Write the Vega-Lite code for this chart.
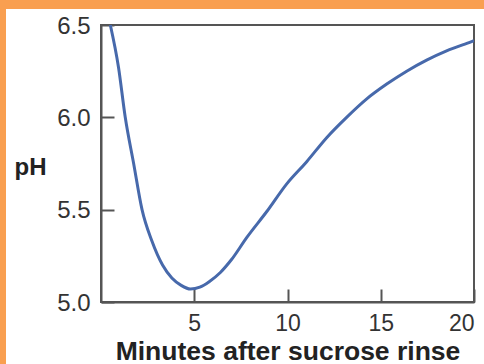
{
  "$schema": "https://vega.github.io/schema/vega-lite/v6.json",
  "padding": 0,
  "background": "white",
  "spacing": 0,
  "config": {
    "font": "Liberation Sans"
  },
  "hconcat": [
    {
      "width": 6,
      "height": 364,
      "data": {"values": [{"k": 1}]},
      "mark": {"type": "rect", "opacity": 0},
      "view": {"fill": "#f99f50", "stroke": null}
    },
    {
      "spacing": 4,
      "vconcat": [
        {
          "width": 478,
          "height": 9,
          "data": {"values": [{"k": 1}]},
          "mark": {"type": "rect", "opacity": 0},
          "view": {"fill": "#f99f50", "stroke": null}
        },
        {
          "spacing": 6,
          "hconcat": [
            {
              "width": 1,
              "height": 1,
              "data": {"values": [{"k": 1}]},
              "mark": {"type": "rect", "opacity": 0},
              "view": {"fill": null, "stroke": null}
            },
            {
              "width": 373,
              "height": 277,
              "view": {"stroke": "#555555", "strokeWidth": 2},
              "data": {
                "values": [
                  {"t": 0.5, "pH": 6.5},
                  {"t": 0.94, "pH": 6.27},
                  {"t": 1.3, "pH": 6.0},
                  {"t": 1.75, "pH": 5.75},
                  {"t": 2.2, "pH": 5.5},
                  {"t": 2.73, "pH": 5.33},
                  {"t": 3.3, "pH": 5.2},
                  {"t": 3.8, "pH": 5.13},
                  {"t": 4.3, "pH": 5.09},
                  {"t": 4.8, "pH": 5.07},
                  {"t": 5.3, "pH": 5.08},
                  {"t": 5.8, "pH": 5.11},
                  {"t": 6.4, "pH": 5.16},
                  {"t": 7.0, "pH": 5.23},
                  {"t": 7.82, "pH": 5.35},
                  {"t": 8.89, "pH": 5.49},
                  {"t": 9.96, "pH": 5.64},
                  {"t": 11.03, "pH": 5.76},
                  {"t": 12.1, "pH": 5.89},
                  {"t": 13.17, "pH": 6.0},
                  {"t": 14.25, "pH": 6.1},
                  {"t": 15.32, "pH": 6.18},
                  {"t": 16.39, "pH": 6.25},
                  {"t": 17.46, "pH": 6.31},
                  {"t": 18.53, "pH": 6.36},
                  {"t": 19.87, "pH": 6.41},
                  {"t": 20, "pH": 6.415}
                ]
              },
              "mark": {"type": "line", "color": "#4769ab", "strokeWidth": 3, "interpolate": "monotone", "clip": true},
              "encoding": {
                "x": {
                  "field": "t", "type": "quantitative",
                  "scale": {"domain": [0, 20], "nice": false, "zero": false},
                  "axis": {
                    "title": "Minutes after sucrose rinse",
                    "values": [5, 10, 15, 20],
                    "grid": false,
                    "domainColor": "#555555", "domainWidth": 2,
                    "tickColor": "#555555", "tickWidth": 2, "tickSize": -13,
                    "labelFontSize": 23, "labelColor": "#333333", "labelPadding": 23,
                    "labelFlush": true,
                    "titleFontSize": 26.5, "titleFontWeight": "bold", "titleColor": "#222222",
                    "titleBaseline": "alphabetic", "titleY": 57
                  }
                },
                "y": {
                  "field": "pH", "type": "quantitative",
                  "scale": {"domain": [5.0, 6.5], "nice": false, "zero": false},
                  "axis": {
                    "title": "pH",
                    "values": [5.0, 5.5, 6.0, 6.5],
                    "format": ".1f",
                    "grid": false,
                    "domainColor": "#555555", "domainWidth": 2,
                    "tickColor": "#555555", "tickWidth": 2, "tickSize": -13,
                    "labelFontSize": 24, "labelColor": "#333333", "labelPadding": 24,
                    "labelOffset": 1,
                    "titleFontSize": 24, "titleFontWeight": "bold", "titleColor": "#222222",
                    "titleAngle": 0, "titleAlign": "center", "titleBaseline": "alphabetic",
                    "titleX": -71, "titleY": 149
                  }
                }
              }
            }
          ]
        }
      ]
    }
  ]
}
